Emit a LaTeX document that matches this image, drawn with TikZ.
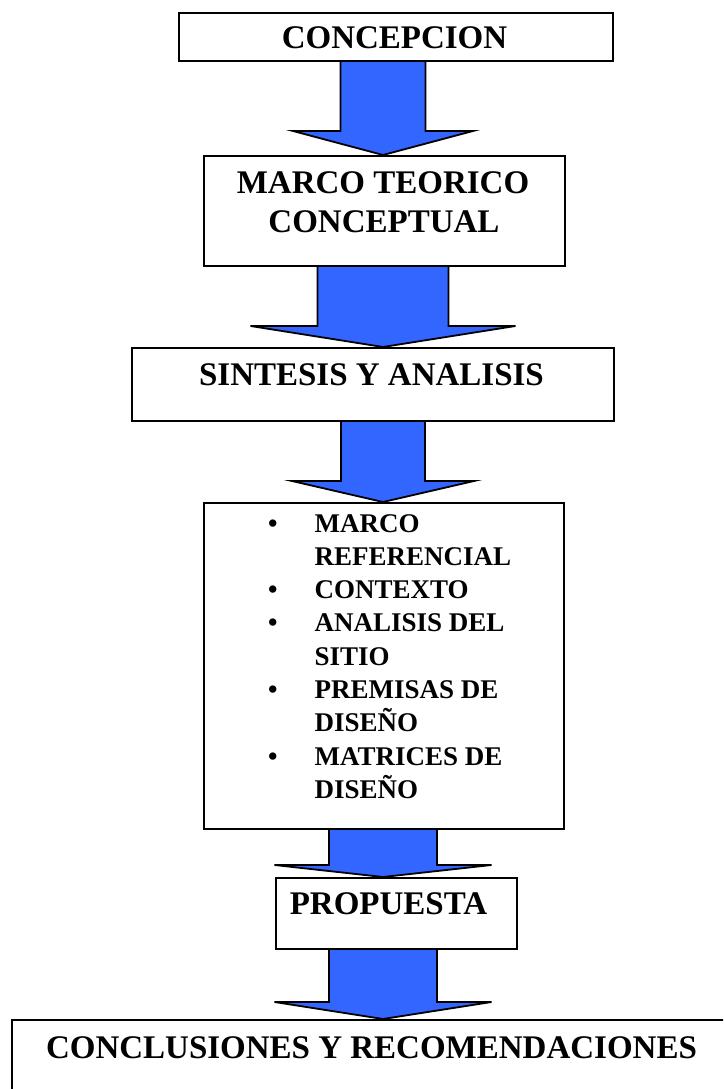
\documentclass[tikz,border=0pt]{standalone}
\usepackage{fontspec}
\setmainfont{Liberation Serif}
\usetikzlibrary{calc,backgrounds}
\definecolor{arrowblue}{RGB}{51,102,255}
\tikzset{
  box/.style={draw=black, line width=2pt, fill=white, inner sep=0pt, anchor=north west},
  headtext/.style={font=\fontsize{33}{39}\selectfont\bfseries, inner sep=0pt, anchor=base},
  listtext/.style={font=\fontsize{27}{33.3}\selectfont\bfseries, inner sep=0pt, anchor=base west},
  blockarrow/.style={fill=arrowblue, draw=black, line width=1.8pt, line join=miter},
}
\newcommand{\blkarrow}[5]{%
  \begin{pgfonlayer}{background}
  \draw[blockarrow] let \p1=(axis), \p2=(#1.south), \p3=(#2.north) in
    (\x1-#3,\y2) -- (\x1-#3,\y3+#5) -- (\x1-#4,\y3+#5) -- (\x1,\y3)
    -- (\x1+#4,\y3+#5) -- (\x1+#3,\y3+#5) -- (\x1+#3,\y2);
  \end{pgfonlayer}}
\begin{document}
\begin{tikzpicture}[x=1pt,y=-1pt]
\useasboundingbox (0,0) rectangle (723,1089);
\coordinate (axis) at (383,0);
% boxes
\node[box, minimum width=434pt, minimum height=48pt] (b1) at (178,12) {};
\node[box, minimum width=361pt, minimum height=110pt] (b2) at (203,155) {};
\node[box, minimum width=482pt, minimum height=73pt] (b3) at (131,347) {};
\node[box, minimum width=360pt, minimum height=326pt] (b4) at (203,502) {};
\node[box, minimum width=241pt, minimum height=71pt] (b5) at (275,877) {};
\begin{scope}
\clip (0,0) rectangle (723,1089);
\node[box, minimum width=730pt, minimum height=100pt] (b6) at (11,1019) {};
\end{scope}
% texts
\node[headtext] (t1) at (394.5,49) {CONCEPCION};
\node[headtext] (t2a) at (383,193) {MARCO TEORICO};
\node[headtext] (t2b) at (384,232) {CONCEPTUAL};
\node[headtext] (t3) at (371.5,385) {SINTESIS Y ANALISIS};
\node[listtext] (t4) at (268,532) {\begin{tabular}[t]{@{}l@{\hspace{37pt}}l@{}}
• & MARCO\\
  & REFERENCIAL\\
• & CONTEXTO\\
• & ANALISIS DEL\\
  & SITIO\\
• & PREMISAS DE\\
  & DISEÑO\\
• & MATRICES DE\\
  & DISEÑO
\end{tabular}};
\node[headtext] (t5) at (388.5,914) {PROPUESTA};
\node[headtext] (t6) at (371.5,1058) {CONCLUSIONES Y RECOMENDACIONES};
% block arrows
\blkarrow{b1}{b2}{42.5pt}{90pt}{24pt}
\blkarrow{b2}{b3}{65.5pt}{132.5pt}{21pt}
\blkarrow{b3}{b4}{42pt}{91pt}{21pt}
\blkarrow{b4}{b5}{54pt}{108.5pt}{12pt}
\blkarrow{b5}{b6}{54pt}{108.5pt}{17pt}
\end{tikzpicture}
\end{document}
